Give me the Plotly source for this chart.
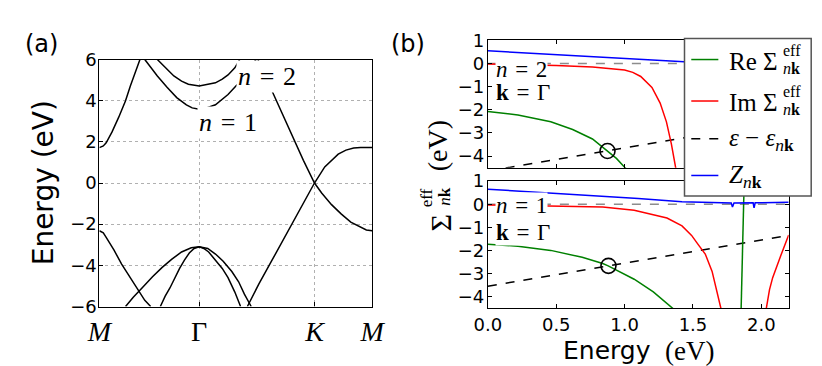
import plotly.graph_objects as go

W, H = 822, 366
SANS = "DejaVu Sans"
SERIF = "Liberation Serif"
GRID = "#b0b0b0"

# ---------------- panel (a): bands along M - Gamma - K - M ----------------
k_ticks = [0.0, 0.866, 1.866, 2.366]
k_labels = ["<i>M</i>", "Γ", "<i>K</i>", "<i>M</i>"]

m_up_k = [0.000, 0.034, 0.059, 0.109, 0.168, 0.227, 0.268, 0.310, 0.352]
m_up_e = [1.72, 1.80, 1.95, 2.47, 3.20, 4.00, 4.70, 5.36, 6.00]

m_dn_k = [0.000, 0.034, 0.059, 0.126, 0.193, 0.268, 0.336, 0.394, 0.445]
m_dn_e = [-2.32, -2.42, -2.64, -3.25, -3.94, -4.60, -5.20, -5.70, -6.00]

n1_k = [0.394, 0.445, 0.503, 0.587, 0.671, 0.755, 0.805, 0.866, 0.923, 1.007, 1.116, 1.233, 1.309, 1.359]
n1_e = [6.00, 5.60, 5.20, 4.65, 4.15, 3.80, 3.65, 3.59, 3.63, 3.80, 4.30, 5.00, 5.60, 6.00]

n2_k = [0.503, 0.587, 0.646, 0.713, 0.772, 0.866, 0.948, 1.007, 1.066, 1.116, 1.175, 1.217]
n2_e = [6.00, 5.50, 5.20, 4.95, 4.80, 4.72, 4.80, 4.87, 5.05, 5.25, 5.60, 6.00]

kd_k = [1.376, 1.426, 1.493, 1.594, 1.678, 1.770, 1.866, 1.930, 2.014, 2.097, 2.181, 2.265, 2.316, 2.366]
kd_e = [6.00, 5.30, 4.53, 3.30, 2.20, 1.10, 0.00, -0.50, -1.05, -1.50, -1.90, -2.15, -2.28, -2.32]

ku_k = [1.284, 1.384, 1.493, 1.594, 1.678, 1.770, 1.866, 1.955, 2.014, 2.072, 2.139, 2.206, 2.266, 2.366]
ku_e = [-6.00, -4.90, -3.80, -2.75, -1.90, -0.95, 0.00, 0.78, 1.10, 1.40, 1.60, 1.70, 1.72, 1.72]

vb1_k = [0.227, 0.294, 0.378, 0.461, 0.545, 0.629, 0.713, 0.797, 0.866, 0.940, 1.007, 1.074, 1.149, 1.208, 1.258, 1.317]
vb1_e = [-6.00, -5.55, -5.05, -4.55, -4.10, -3.70, -3.35, -3.15, -3.10, -3.18, -3.45, -3.80, -4.30, -4.80, -5.40, -6.00]

vb2_k = [0.529, 0.571, 0.612, 0.654, 0.696, 0.738, 0.780, 0.822, 0.866, 0.906, 0.948, 1.007, 1.066, 1.116, 1.175, 1.225]
vb2_e = [-6.00, -5.50, -5.10, -4.60, -4.15, -3.75, -3.40, -3.18, -3.10, -3.18, -3.35, -3.75, -4.15, -4.60, -5.30, -6.00]

bands = [(m_up_k, m_up_e), (m_dn_k, m_dn_e), (n1_k, n1_e), (n2_k, n2_e),
         (kd_k, kd_e), (ku_k, ku_e), (vb1_k, vb1_e), (vb2_k, vb2_e)]

# ---------------- panel (b): self-energy, n=2 (top) and n=1 (bottom) ----------------
re2_e = [0.0, 0.22, 0.46, 0.62, 0.765, 0.87, 0.94, 1.0, 1.02]
re2_v = [-2.07, -2.22, -2.52, -2.85, -3.26, -3.74, -4.10, -4.48, -4.60]
im2_e = [0.0, 0.3, 0.5, 0.765, 1.0, 1.06, 1.118, 1.2, 1.26, 1.306, 1.342, 1.375]
im2_v = [-0.02, -0.05, -0.08, -0.15, -0.28, -0.38, -0.56, -1.03, -1.71, -2.52, -3.47, -4.55]
z2_e = [0.0, 0.41, 0.765, 1.0, 1.47, 1.6, 2.2]
z2_v = [0.55, 0.41, 0.30, 0.20, 0.04, 0.02, 0.0]
d2_e = [0.0, 2.2]
d2_v = [-4.65, -2.45]
qp2 = ([0.875], [-3.78])

re1a_e = [0.0, 0.22, 0.46, 0.69, 0.84, 0.88, 1.07, 1.21, 1.36]
re1a_v = [-1.73, -1.82, -2.0, -2.3, -2.57, -2.67, -3.25, -3.8, -4.55]
re1b_e = [1.852, 1.862, 1.871, 1.878]
re1b_v = [-4.6, -2.0, 0.9, 1.8]
im1a_e = [0.0, 0.5, 0.84, 1.07, 1.31, 1.42, 1.49, 1.54, 1.59, 1.64, 1.68, 1.708]
im1a_v = [-0.03, -0.08, -0.12, -0.26, -0.6, -0.94, -1.35, -1.76, -2.16, -2.91, -3.87, -4.6]
im1b_e = [2.034, 2.06, 2.083, 2.11, 2.142, 2.17, 2.2]
im1b_v = [-4.6, -3.7, -3.18, -2.7, -2.23, -1.8, -1.33]
z1_e = [0.0, 0.5, 0.84, 1.1, 1.42, 1.6, 1.78, 1.789, 1.80, 1.94, 1.947, 1.955, 2.2]
z1_v = [0.65, 0.48, 0.35, 0.25, 0.11, 0.07, 0.05, -0.12, 0.05, 0.06, -0.16, 0.06, 0.08]
d1_e = [0.0, 2.2]
d1_v = [-3.55, -1.35]
qp1 = ([0.882], [-2.67])
zero_e = [0.0, 2.2]
zero_v = [0.0, 0.0]


def px(x):
    return x / W


def py(y):
    return 1 - y / H


fig = go.Figure()

for bk, be in bands:
    fig.add_trace(go.Scatter(x=bk, y=be, mode="lines", line=dict(color="black", width=1.5),
                             xaxis="x", yaxis="y", showlegend=False, hoverinfo="skip"))


def sigma_panel(xa, ya, re_list, im_list, z_e, z_v, d_e, d_v, qp):
    fig.add_trace(go.Scatter(x=zero_e, y=zero_v, mode="lines",
                             line=dict(color="#8c8c8c", width=1.5, dash="dash"), xaxis=xa, yaxis=ya))
    fig.add_trace(go.Scatter(x=d_e, y=d_v, mode="lines",
                             line=dict(color="black", width=1.5, dash="dash"), xaxis=xa, yaxis=ya))
    for e, v in re_list:
        fig.add_trace(go.Scatter(x=e, y=v, mode="lines", line=dict(color="#008000", width=1.5),
                                 xaxis=xa, yaxis=ya))
    for e, v in im_list:
        fig.add_trace(go.Scatter(x=e, y=v, mode="lines", line=dict(color="#ff0000", width=1.5),
                                 xaxis=xa, yaxis=ya))
    fig.add_trace(go.Scatter(x=z_e, y=z_v, mode="lines", line=dict(color="#0000ff", width=1.5),
                             xaxis=xa, yaxis=ya))
    fig.add_trace(go.Scatter(x=qp[0], y=qp[1], mode="markers",
                             marker=dict(symbol="circle-open", size=15, color="black", line=dict(width=1.6)),
                             xaxis=xa, yaxis=ya))


sigma_panel("x2", "y2", [(re2_e, re2_v)], [(im2_e, im2_v)], z2_e, z2_v, d2_e, d2_v, qp2)
sigma_panel("x3", "y3", [(re1a_e, re1a_v), (re1b_e, re1b_v)], [(im1a_e, im1a_v), (im1b_e, im1b_v)],
            z1_e, z1_v, d1_e, d1_v, qp1)

ax_common = dict(showline=True, linecolor="black", linewidth=1.2, ticks="inside", ticklen=4,
                 tickcolor="black", zeroline=False, tickfont=dict(family=SANS, size=18, color="black"))

xb_dom = [px(481.7), px(792.7)]

fig.update_layout(
    width=W, height=H, margin=dict(l=0, r=0, t=0, b=0),
    paper_bgcolor="white", plot_bgcolor="white", showlegend=False,
    xaxis=dict(ax_common, domain=[px(80), px(362)], range=[0, 2.366], anchor="y", mirror=True,
               tickvals=k_ticks, ticktext=k_labels, tickfont=dict(family=SERIF, size=28, color="black"),
               showgrid=True, gridcolor=GRID, griddash="dot", gridwidth=1),
    yaxis=dict(ax_common, domain=[py(305), py(43)], range=[-6, 6], dtick=2, tick0=0, anchor="x",
               mirror=True, showgrid=True, gridcolor=GRID, griddash="dot", gridwidth=1,
               ticklabelstandoff=-2),
    xaxis2=dict(ax_common, domain=xb_dom, range=[0, 2.2], dtick=0.5, tick0=0, anchor="y2",
                mirror="ticks", showticklabels=False, showgrid=False),
    yaxis2=dict(ax_common, domain=[py(157.7), py(22.7)], range=[-4.5, 1], dtick=1, tick0=0,
                anchor="x2", mirror="ticks", showgrid=False, ticklabelstandoff=-1),
    xaxis3=dict(ax_common, domain=xb_dom, range=[0, 2.2], dtick=0.5, tick0=0, anchor="y3",
                mirror="ticks", tickformat=".1f", showgrid=False, ticklabelstandoff=0),
    yaxis3=dict(ax_common, domain=[py(306.7), py(172)], range=[-4.5, 1], dtick=1, tick0=0,
                anchor="x3", mirror="ticks", showgrid=False, ticklabelstandoff=-1),
)

ann = []


def txt(x, y, s, size, family=SERIF, xanchor="center", angle=0, bg=None, pad=1):
    d = dict(x=px(x), y=py(y), xref="paper", yref="paper", text=s, showarrow=False,
             xanchor=xanchor, yanchor="middle", textangle=angle, borderpad=pad,
             font=dict(family=family, size=size, color="black"))
    if bg:
        d["bgcolor"] = bg
    ann.append(d)


SP = "\u2004"
# panel labels
txt(20, 26, "(a)", 24, SANS)
txt(399, 26, "(b)", 24, SANS)
# panel (a)
txt(22, 174, "Energy (eV)", 28, SANS, angle=-90)
txt(253, 61, "<i>n</i>" + SP + "=" + SP + "2", 26, bg="white")
txt(213, 110, "<i>n</i>" + SP + "=" + SP + "1", 26, bg="white")
# panel (b) labels in subplots
txt(489, 54, "<i>n</i>" + SP + "=" + SP + "2", 23, xanchor="left", bg="white", pad=0)
txt(489, 78, "<b>k</b>" + SP + "=" + SP + "Γ", 23, xanchor="left", bg="white", pad=0)
txt(489, 198, "<i>n</i>" + SP + "=" + SP + "1", 23, xanchor="left", bg="white", pad=0)
txt(489, 226, "<b>k</b>" + SP + "=" + SP + "Γ", 23, xanchor="left", bg="white", pad=0)
# panel (b) axis titles
txt(557, 352, "Energy", 25, SANS, xanchor="left")
txt(690, 352, "(eV)", 27)
txt(433, 216, "Σ", 30, angle=-90)
txt(418, 190, "eff", 17, angle=-90)
txt(437, 188, "<i>n</i><b>k</b>", 17, angle=-90)
txt(429, 134, "(eV)", 28, angle=-90)

# legend
leg_rows = [43, 87, 127, 166]
leg_colors = ["#008000", "#ff0000", "black", "#0000ff"]
leg_dash = ["solid", "solid", "dash", "solid"]
shapes = [dict(type="rect", xref="paper", yref="paper", x0=px(685), x1=px(816), y0=py(187.7), y1=py(20.7),
               fillcolor="white", line=dict(color="#555555", width=1.5), layer="above")]
for r, c, d in zip(leg_rows, leg_colors, leg_dash):
    shapes.append(dict(type="line", xref="paper", yref="paper", x0=px(692), x1=px(720), y0=py(r), y1=py(r),
                       line=dict(color=c, width=1.5, dash=d), layer="above"))
txt(784, 45, "Re Σ", 25, xanchor="right")
txt(785, 33, "eff", 16, xanchor="left")
txt(785, 52, "<i>n</i><b>k</b>", 16, xanchor="left")
txt(784, 89, "Im Σ", 25, xanchor="right")
txt(785, 77, "eff", 16, xanchor="left")
txt(785, 96, "<i>n</i><b>k</b>", 16, xanchor="left")
txt(729, 128, "<i>ε</i> − <i>ε</i><sub><i>n</i><b>k</b></sub>", 25, xanchor="left")
txt(729, 167, "<i>Z</i><sub><i>n</i><b>k</b></sub>", 25, xanchor="left")

fig.update_layout(annotations=ann, shapes=shapes)

fig.write_html("out.html")
